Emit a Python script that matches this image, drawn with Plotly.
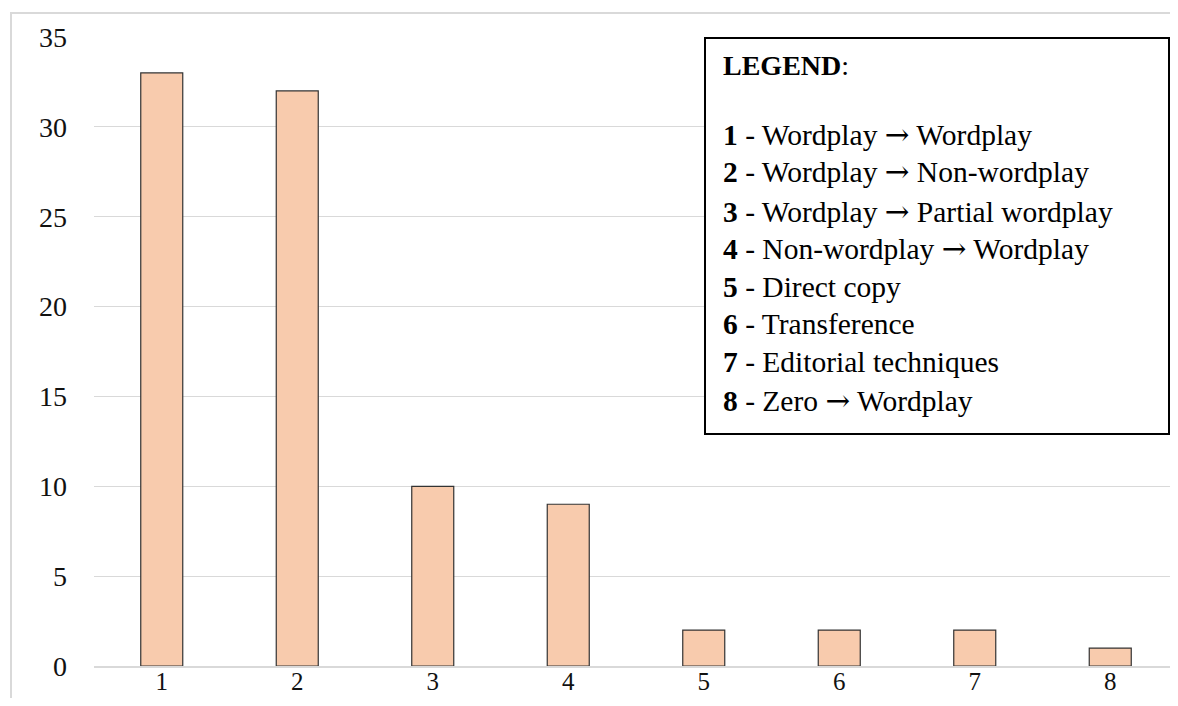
import plotly.graph_objects as go

categories = ["1", "2", "3", "4", "5", "6", "7", "8"]
values = [33, 32, 10, 9, 2, 2, 2, 1]
y_ticks = [0, 5, 10, 15, 20, 25, 30, 35]
legend_title = "LEGEND"
legend_nums = ["1", "2", "3", "4", "5", "6", "7", "8"]
legend_labels = [
    "Wordplay → Wordplay",
    "Wordplay → Non-wordplay",
    "Wordplay → Partial wordplay",
    "Non-wordplay → Wordplay",
    "Direct copy",
    "Transference",
    "Editorial techniques",
    "Zero → Wordplay",
]

FONT = "Liberation Serif, Times New Roman, serif"
ARROW_FONT = "DejaVu Serif"
OFF = 8  # page body margin
W, H = 1162, 690
L, R, T, B = 86, 0, 29, 32
PW = W - L - R
PH = H - T - B
CAT_PX = 135.5


def px_x(xs):
    return (xs - OFF - L) / PW


def px_y(ys):
    return (H - B - (ys - OFF)) / PH


def fmt(s):
    return s.replace("→", f"<span style=\"font-family:'{ARROW_FONT}'\">→</span>")


fig = go.Figure()
fig.add_trace(go.Bar(
    x=categories, y=values, width=0.31,
    marker=dict(color="#F8CBAD", line=dict(color="#333333", width=1.2)),
))

shapes = [
    dict(type="rect", xref="paper", yref="paper",
         x0=px_x(11), x1=px_x(1250), y0=px_y(760), y1=px_y(13),
         line=dict(color="#d9d9d9", width=2), fillcolor="rgba(0,0,0,0)", layer="below"),
    dict(type="rect", xref="paper", yref="paper",
         x0=px_x(705), x1=px_x(1169), y0=px_y(434), y1=px_y(38),
         line=dict(color="#000000", width=2), fillcolor="white", layer="above"),
]

annotations = [
    dict(xref="paper", yref="paper", x=px_x(721), y=px_y(66),
         xanchor="left", yanchor="middle", showarrow=False,
         text=f"<b>{legend_title}</b>:", font=dict(family=FONT, size=28, color="black")),
]
line_centers = [135, 172, 212, 249, 287, 324, 362, 401]
for num, lab, yc in zip(legend_nums, legend_labels, line_centers):
    annotations.append(dict(
        xref="paper", yref="paper", x=px_x(721), y=px_y(yc),
        xanchor="left", yanchor="middle", showarrow=False,
        text=f"<b>{num}</b> - {fmt(lab)}", font=dict(family=FONT, size=29.5, color="black")))

fig.update_layout(
    width=W, height=H,
    margin=dict(l=L, r=R, t=T, b=B, pad=0),
    paper_bgcolor="white", plot_bgcolor="white",
    showlegend=False,
    font=dict(family=FONT, size=28, color="#111111"),
    shapes=shapes, annotations=annotations,
)
fig.update_xaxes(
    type="category", range=[-0.5, -0.5 + PW / CAT_PX], automargin=False,
    showgrid=False, showline=True, linecolor="#d9d9d9", linewidth=1.5,
    ticks="", ticklabelstandoff=-8, zeroline=False,
    tickfont=dict(family=FONT, size=25, color="#111111"),
)
fig.update_yaxes(
    range=[0, 35], tickvals=y_ticks, automargin=False,
    showgrid=True, gridcolor="#d9d9d9", gridwidth=1.2,
    showline=False, zeroline=False, ticks="", ticklabelstandoff=26,
)

fig.write_html("out.html")
